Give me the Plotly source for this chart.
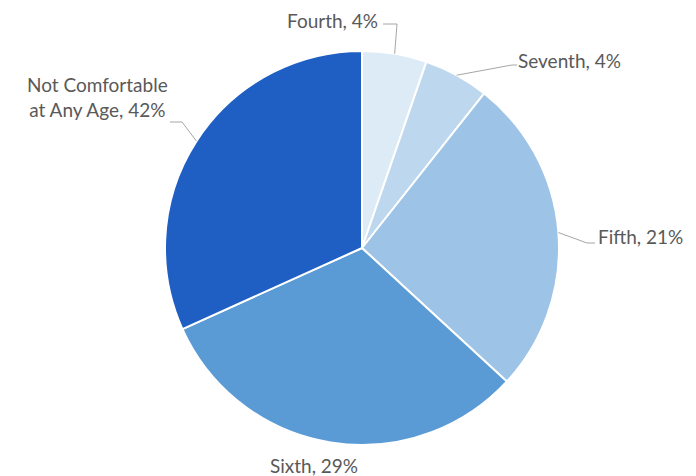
import math
import plotly.graph_objects as go

# ---- data ----
categories = ["Fourth", "Seventh", "Fifth", "Sixth", "Not Comfortable at Any Age"]
slice_values = [5.3, 5.35, 26.2, 31.4, 31.75]          # visual slice sizes
label_pcts = ["4%", "4%", "21%", "29%", "42%"]           # printed percentages
label_text = ["Fourth, 4%", "Seventh, 4%", "Fifth, 21%", "Sixth, 29%",
              "Not Comfortable<br>at Any Age, 42%"]
colors = ["#DDEBF7", "#BDD7EE", "#9DC3E6", "#5B9BD5", "#1F5FC4"]

W, H = 696, 476
CX, CY, R = 362, 248, 197

# label placement (pixels): label x, y, anchor, elbow point, end point (None = no leader)
label_layout = [
    dict(x=380, y=21, xa="right", elbow=(397, 24), end=(383, 24)),
    dict(x=516, y=60, xa="left", elbow=(512, 65), end=(517, 65)),
    dict(x=596, y=236, xa="left", elbow=(587, 243), end=(595, 243)),
    dict(x=314, y=465, xa="center", elbow=None, end=None),
    dict(x=97, y=97, xa="center", elbow=(182, 122), end=(170, 122)),
]

def px(x):
    return x / W

def py(y):
    return 1 - y / H

fig = go.Figure(go.Pie(
    labels=categories,
    values=slice_values,
    sort=False,
    direction="clockwise",
    rotation=0,
    marker=dict(colors=colors, line=dict(color="white", width=2)),
    textinfo="none",
    hoverinfo="label+percent",
    showlegend=False,
    domain=dict(x=[px(CX - R), px(CX + R)], y=[py(CY + R), py(CY - R)]),
))

total = sum(slice_values)
cum = 0.0
shapes = []
annotations = []
for v, txt, lay in zip(slice_values, label_text, label_layout):
    mid = (cum + v / 2) / total * 2 * math.pi
    cum += v
    ax = CX + R * math.sin(mid)
    ay = CY - R * math.cos(mid)
    if lay["elbow"] is not None:
        ex, ey = lay["elbow"]
        fx, fy = lay["end"]
        path = f"M {px(ax)} {py(ay)} L {px(ex)} {py(ey)} L {px(fx)} {py(fy)}"
        shapes.append(dict(type="path", xref="paper", yref="paper", path=path,
                           line=dict(color="#A6A6A6", width=1)))
    annotations.append(dict(
        x=px(lay["x"]), y=py(lay["y"]), xref="paper", yref="paper",
        xanchor=lay["xa"], yanchor="middle", text=txt, showarrow=False,
        align="center",
        font=dict(family="Lato, 'Open Sans', sans-serif", size=19, color="#595959"),
    ))

fig.update_layout(
    width=W, height=H,
    margin=dict(l=0, r=0, t=0, b=0),
    paper_bgcolor="white",
    plot_bgcolor="white",
    shapes=shapes,
    annotations=annotations,
)

fig.write_html("out.html", post_script="document.body.style.margin='0';",
               config={"displayModeBar": False})
